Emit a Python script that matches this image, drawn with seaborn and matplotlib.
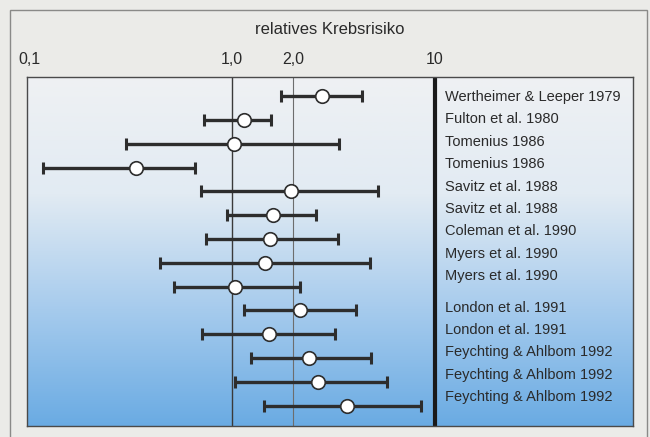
import numpy as np
import pandas as pd
import matplotlib
matplotlib.use("Agg")
import matplotlib.pyplot as plt
from matplotlib.colors import LinearSegmentedColormap
from matplotlib.patches import Rectangle
import seaborn as sns

# studies (top to bottom), relative risk and confidence interval
studies = ["Wertheimer & Leeper 1979", "Fulton et al. 1980", "Tomenius 1986",
           "Tomenius 1986", "Savitz et al. 1988", "Savitz et al. 1988",
           "Coleman et al. 1990", "Myers et al. 1990", "Myers et al. 1990",
           "London et al. 1991", "London et al. 1991", "Feychting & Ahlbom 1992",
           "Feychting & Ahlbom 1992", "Feychting & Ahlbom 1992"]
risk = [2.77, 1.15, 1.02, 0.337, 1.95, 1.59, 1.54, 1.45, 1.03, 2.16, 1.52, 2.39, 2.65, 3.69]
lower = [1.74, 0.73, 0.30, 0.117, 0.70, 0.94, 0.745, 0.44, 0.52, 1.15, 0.71, 1.24, 1.03, 1.44]
upper = [4.37, 1.56, 3.37, 0.66, 5.24, 2.59, 3.33, 4.78, 2.16, 4.08, 3.22, 4.84, 5.80, 8.53]
tick_values = [0.1, 1.0, 2.0, 10]
tick_labels = ["0,1", "1,0", "2,0", "10"]

df = pd.DataFrame({"Studie": studies, "RR": risk, "lo": lower, "hi": upper})
df["row"] = np.arange(len(df))

sns.set_theme(style="white")
plt.rcParams["font.family"] = ["Liberation Sans", "DejaVu Sans"]

W, H = 650, 437
fig = plt.figure(figsize=(6.5, 4.37), dpi=100)
fig.patch.set_facecolor("#ebebe8")
fig.patches.append(Rectangle((10 / W, -0.05), 637 / W, 1.05 - 10 / H, transform=fig.transFigure,
                             fill=False, edgecolor="#8a8a88", linewidth=1.0))

ax = fig.add_axes([27 / W, 1 - 426 / H, 606 / W, 349 / H])
ax.set_xscale("log")
ax.set_xlim(0.0977, 94.5)
ax.set_ylim(13.85, -0.8)

# gradient background
cmap = LinearSegmentedColormap.from_list("bg", ["#eff1f3", "#e2ebf3", "#a6cbed", "#6aabe3"])
grad = np.linspace(0, 1, 256).reshape(-1, 1)
ax.imshow(grad, cmap=cmap, aspect="auto", extent=[0, 1, 0, 1], origin="upper",
          transform=ax.transAxes, zorder=0)

ax.axvline(1.0, color="#3a3a3a", lw=1.0, zorder=1)
ax.axvline(2.0, color="#6d6d6d", lw=0.8, zorder=1)
ax.axvline(10, color="#1a1a1a", lw=3.0, zorder=1)

ax.errorbar(df["RR"], df["row"], xerr=[df["RR"] - df["lo"], df["hi"] - df["RR"]],
            fmt="none", ecolor="#2d2d2d", elinewidth=2.4, capsize=4, capthick=2.2, zorder=2)
sns.scatterplot(data=df, x="RR", y="row", ax=ax, s=95, color="white",
                edgecolor="#2d2d2d", linewidth=1.2, zorder=3, legend=False)

# study labels inside the panel, right of the 10 line
label_pos = np.where(df["row"] < 9, 0.04 + df["row"] * 0.94, 8.9 + (df["row"] - 9) * 0.93)
for name, yp in zip(studies, label_pos):
    ax.text(0.690, yp, name, transform=ax.get_yaxis_transform(), ha="left", va="center",
            fontsize=10.5, color="#2a2a2a")

ax.set_xticks(tick_values)
ax.set_xticklabels(tick_labels)
ax.minorticks_off()
ax.xaxis.tick_top()
ax.tick_params(axis="x", length=0, pad=7, labelsize=11.5, labelcolor="#2a2a2a")
ax.set_yticks([])
ax.set_xlabel("relatives Krebsrisiko", fontsize=12, color="#2a2a2a", labelpad=13)
ax.xaxis.set_label_position("top")
ax.set_ylabel("")
for sp in ax.spines.values():
    sp.set_color("#4a4a4a")
    sp.set_linewidth(1.0)

fig.savefig("out.png", dpi=100, facecolor=fig.get_facecolor())
